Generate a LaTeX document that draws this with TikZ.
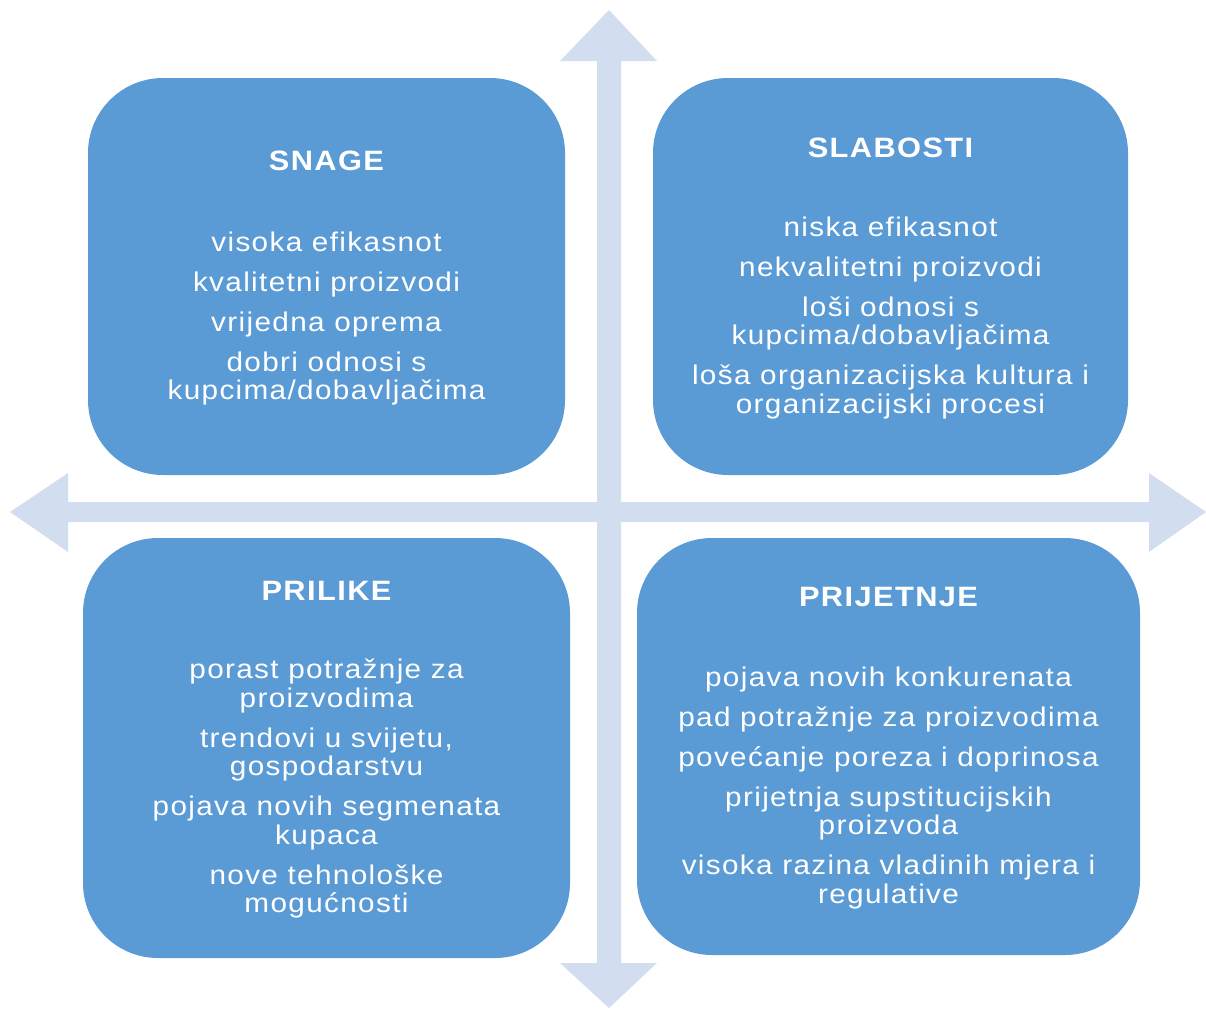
\documentclass[tikz,border=0pt]{standalone}
\usepackage{fontspec}
\setmainfont[FakeStretch=1.1, LetterSpace=5]{Liberation Sans}
\usepackage{tikz}
\definecolor{swotplava}{HTML}{5B9BD5}
\definecolor{svijetla}{HTML}{D2DEEF}

\begin{document}
\begin{tikzpicture}[x=1pt,y=-1pt,
            kvadrant/.style={fill=swotplava, draw=none, rounded corners=75pt, inner sep=0pt},
            naslov/.style={text=white, font=\fontsize{28}{30}\selectfont\bfseries, anchor=base},
            stavke/.style={text=white, font=\fontsize{27}{28.5}\selectfont, align=center, anchor=north, inner sep=0pt},
            strelica/.style={fill=svijetla}]
            \useasboundingbox (0,0) rectangle (1206,1010);
            % osi
            \fill[strelica] (609,10) -- (657,61) -- (621,61) -- (621,963) -- (657,963) -- (609,1008)
                -- (560,963) -- (597,963) -- (597,61) -- (560,61) -- cycle;
            \fill[strelica] (10,512) -- (68,473) -- (68,502) -- (1149,502) -- (1149,473) -- (1206,512)
                -- (1149,552) -- (1149,522) -- (68,522) -- (68,552) -- cycle;
            % kvadranti
            \node[kvadrant, minimum width=477pt, minimum height=397pt] (snage) at (326.5,276.5) {};
            \node[kvadrant, minimum width=475pt, minimum height=397pt] (slabosti) at (890.5,276.5) {};
            \node[kvadrant, minimum width=487pt, minimum height=420pt] (prilike) at (326.5,748) {};
            \node[kvadrant, minimum width=503pt, minimum height=417pt] (prijetnje) at (888.5,746.5) {};
            % tekst
            \node[naslov] (snageN) at (326.5,170) {SNAGE};
            \node[stavke] (snageS) at (326.5,231.5) {visoka efikasnot\\[11.5pt]
                kvalitetni proizvodi\\[11.5pt]
                vrijedna oprema\\[11.5pt]
                dobri odnosi s\\ kupcima/dobavljačima};
            \node[naslov] (slabostiN) at (890.5,157) {SLABOSTI};
            \node[stavke] (slabostiS) at (890.5,216.5) {niska efikasnot\\[11.5pt]
                nekvalitetni proizvodi\\[11.5pt]
                loši odnosi s\\ kupcima/dobavljačima\\[11.5pt]
                loša organizacijska kultura i\\ organizacijski procesi};
            \node[naslov] (prilikeN) at (326.5,600) {PRILIKE};
            \node[stavke] (prilikeS) at (326.5,659) {porast potražnje za\\ proizvodima\\[11.5pt]
                trendovi u svijetu,\\ gospodarstvu\\[11.5pt]
                pojava novih segmenata\\ kupaca\\[11.5pt]
                nove tehnološke\\ mogućnosti};
            \node[naslov] (prijetnjeN) at (888.5,606) {PRIJETNJE};
            \node[stavke] (prijetnjeS) at (888.5,666.5) {pojava novih konkurenata\\[11.5pt]
                pad potražnje za proizvodima\\[11.5pt]
                povećanje poreza i doprinosa\\[11.5pt]
                prijetnja supstitucijskih\\ proizvoda\\[11.5pt]
                visoka razina vladinih mjera i\\ regulative};
        \end{tikzpicture}
\end{document}
